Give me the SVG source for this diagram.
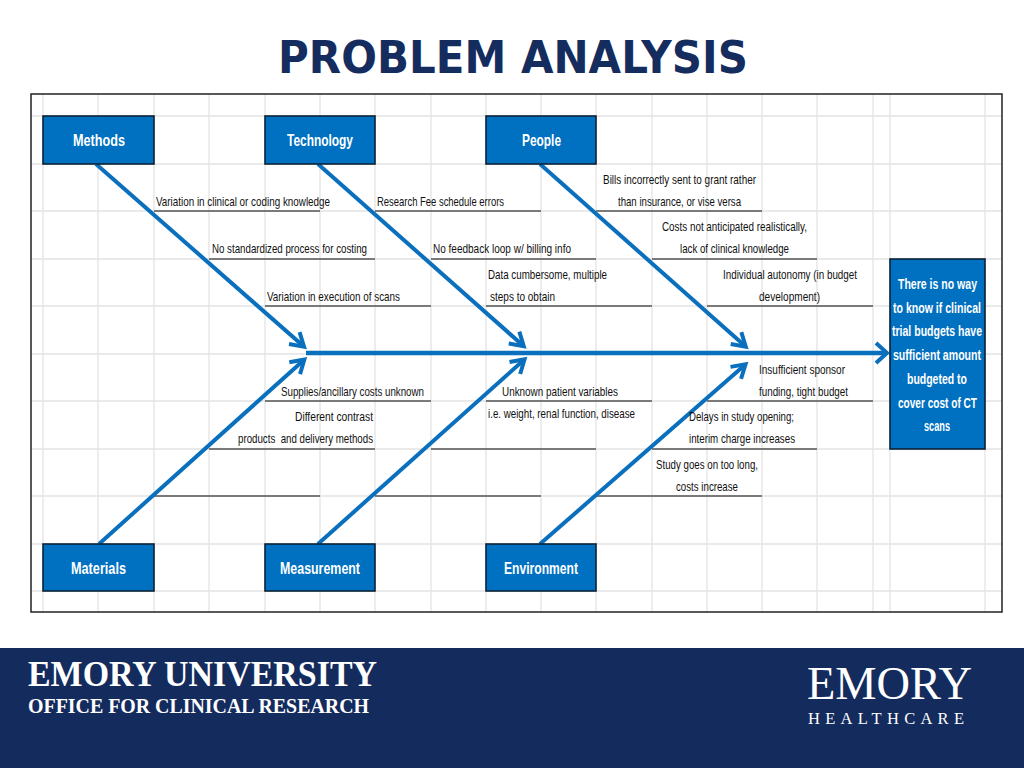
<svg xmlns="http://www.w3.org/2000/svg" width="1024" height="768" viewBox="0 0 1024 768">
<style>
.g{stroke:#e4e4e4;stroke-width:1.3;fill:none}
.u{stroke:#0a0a0a;stroke-width:1.2;fill:none}
.a{stroke:#0a70bd;stroke-width:4;fill:none;stroke-linecap:butt}
.m{stroke:#0a70bd;stroke-width:4.6;fill:none}
.n{fill:#0070c0;stroke:#0b2238;stroke-width:1.6}
text{font-family:"Liberation Sans","Noto Sans",sans-serif}
.l{font-size:13px;fill:#111}
.h{font-size:17px;font-weight:bold;fill:#fff}
.r{font-size:15.5px;font-weight:bold;fill:#fff}
.f{font-family:"Liberation Serif",serif;fill:#fff}
</style>
<defs>
<marker id="ah" viewBox="0 0 28 24" refX="19" refY="12" markerWidth="28" markerHeight="24" markerUnits="userSpaceOnUse" orient="auto"><path d="M7 4 L20 12 L7 20" fill="none" stroke="#0a70bd" stroke-width="4"/></marker>
<marker id="ahm" viewBox="0 0 28 24" refX="19" refY="12" markerWidth="28" markerHeight="24" markerUnits="userSpaceOnUse" orient="auto"><path d="M9 2 L20 12 L9 22" fill="none" stroke="#0a70bd" stroke-width="4"/></marker>
</defs>
<rect width="1024" height="768" fill="#fff"/>
<text id="title" x="278" y="73" font-size="45" font-weight="bold" fill="#152c5e" style="font-family:'DejaVu Sans',sans-serif" textLength="470" lengthAdjust="spacingAndGlyphs">PROBLEM ANALYSIS</text>
<g id="grid">
<path class="g" d="M43 94V612M98 94V612M154 94V612M209 94V612M265 94V612M320 94V612M375 94V612M431 94V612M486 94V612M541 94V612M596 94V612M652 94V612M707 94V612M762 94V612M817 94V612M873 94V612M890 94V612M985 94V612"/>
<path class="g" d="M31 116H1002M31 164H1002M31 211H1002M31 259H1002M31 306H1002M31 354H1002M31 401H1002M31 449H1002M31 496H1002M31 544H1002M31 591H1002"/>
<rect x="31" y="94" width="971" height="518" fill="none" stroke="#222" stroke-width="1.5"/>
</g>
<g id="ribs">
<path class="u" d="M154 211H320M375 211H541M596 211H762M209 259H375M431 259H596M652 259H817M265 306H431M486 306H652M707 306H873M265 401H431M486 401H652M707 401H873M209 449H375M431 449H596M652 449H817M154 496H320M375 496H541M596 496H762"/>
</g>
<g id="connectors">
<line class="a" x1="96" y1="164" x2="303.3" y2="346" marker-end="url(#ah)"/>
<line class="a" x1="318" y1="164" x2="523" y2="345.5" marker-end="url(#ah)"/>
<line class="a" x1="540" y1="164" x2="745" y2="346" marker-end="url(#ah)"/>
<line class="a" x1="99" y1="544" x2="303.6" y2="360.2" marker-end="url(#ah)"/>
<line class="a" x1="318" y1="544" x2="523.8" y2="360" marker-end="url(#ah)"/>
<line class="a" x1="540" y1="544" x2="744.8" y2="365" marker-end="url(#ah)"/>
<line class="m" x1="306" y1="353" x2="886" y2="353" marker-end="url(#ahm)"/>
</g>
<g id="labels">
<text class="l" x="156" y="206" textLength="174" lengthAdjust="spacingAndGlyphs">Variation in clinical or coding knowledge</text>
<text class="l" x="377" y="206" textLength="127" lengthAdjust="spacingAndGlyphs">Research Fee schedule errors</text>
<text class="l" x="603" y="184" textLength="153" lengthAdjust="spacingAndGlyphs">Bills incorrectly sent to grant rather</text>
<text class="l" x="618" y="206" textLength="123" lengthAdjust="spacingAndGlyphs">than insurance, or vise versa</text>
<text class="l" x="662" y="231" textLength="145" lengthAdjust="spacingAndGlyphs">Costs not anticipated realistically,</text>
<text class="l" x="680" y="253" textLength="109" lengthAdjust="spacingAndGlyphs">lack of clinical knowledge</text>
<text class="l" x="212" y="253" textLength="155" lengthAdjust="spacingAndGlyphs">No standardized process for costing</text>
<text class="l" x="433" y="253" textLength="138" lengthAdjust="spacingAndGlyphs">No feedback loop w/ billing info</text>
<text class="l" x="488" y="279" textLength="119" lengthAdjust="spacingAndGlyphs">Data cumbersome, multiple</text>
<text class="l" x="490" y="301" textLength="65" lengthAdjust="spacingAndGlyphs">steps to obtain</text>
<text class="l" x="723" y="279" textLength="134" lengthAdjust="spacingAndGlyphs">Individual autonomy (in budget</text>
<text class="l" x="759" y="301" textLength="61" lengthAdjust="spacingAndGlyphs">development)</text>
<text class="l" x="267" y="301" textLength="133" lengthAdjust="spacingAndGlyphs">Variation in execution of scans</text>
<text class="l" x="759" y="374" textLength="86" lengthAdjust="spacingAndGlyphs">Insufficient sponsor</text>
<text class="l" x="759" y="396" textLength="89" lengthAdjust="spacingAndGlyphs">funding, tight budget</text>
<text class="l" x="281" y="396" textLength="143" lengthAdjust="spacingAndGlyphs">Supplies/ancillary costs unknown</text>
<text class="l" x="502" y="396" textLength="116" lengthAdjust="spacingAndGlyphs">Unknown patient variables</text>
<text class="l" x="488" y="418" textLength="147" lengthAdjust="spacingAndGlyphs">i.e. weight, renal function, disease</text>
<text class="l" x="295" y="421" textLength="78" lengthAdjust="spacingAndGlyphs">Different contrast</text>
<text class="l" x="238" y="443" textLength="135" lengthAdjust="spacingAndGlyphs" xml:space="preserve">products  and delivery methods</text>
<text class="l" x="689" y="421" textLength="105" lengthAdjust="spacingAndGlyphs">Delays in study opening;</text>
<text class="l" x="689" y="443" textLength="106" lengthAdjust="spacingAndGlyphs">interim charge increases</text>
<text class="l" x="656" y="469" textLength="102" lengthAdjust="spacingAndGlyphs">Study goes on too long,</text>
<text class="l" x="676" y="491" textLength="62" lengthAdjust="spacingAndGlyphs">costs increase</text>
</g>
<g id="methods"><rect class="n" x="43" y="116" width="111" height="48"/><text class="h" x="73" y="146" textLength="52" lengthAdjust="spacingAndGlyphs">Methods</text></g>
<g id="technology"><rect class="n" x="265" y="116" width="110" height="48"/><text class="h" x="287" y="146" textLength="66" lengthAdjust="spacingAndGlyphs">Technology</text></g>
<g id="people"><rect class="n" x="486" y="116" width="110" height="48"/><text class="h" x="522" y="146" textLength="39" lengthAdjust="spacingAndGlyphs">People</text></g>
<g id="materials"><rect class="n" x="43" y="544" width="111" height="47"/><text class="h" x="71" y="574" textLength="55" lengthAdjust="spacingAndGlyphs">Materials</text></g>
<g id="measurement"><rect class="n" x="265" y="544" width="110" height="47"/><text class="h" x="280" y="574" textLength="80" lengthAdjust="spacingAndGlyphs">Measurement</text></g>
<g id="environment"><rect class="n" x="486" y="544" width="110" height="47"/><text class="h" x="504" y="574" textLength="74" lengthAdjust="spacingAndGlyphs">Environment</text></g>
<g id="effect"><rect class="n" x="890" y="259" width="95" height="190"/>
<text class="r" x="898" y="289" textLength="79" lengthAdjust="spacingAndGlyphs">There is no way</text>
<text class="r" x="893" y="313" textLength="88" lengthAdjust="spacingAndGlyphs">to know if clinical</text>
<text class="r" x="892" y="336" textLength="90" lengthAdjust="spacingAndGlyphs">trial budgets have</text>
<text class="r" x="893" y="360" textLength="88" lengthAdjust="spacingAndGlyphs">sufficient amount</text>
<text class="r" x="907" y="384" textLength="60" lengthAdjust="spacingAndGlyphs">budgeted to</text>
<text class="r" x="898" y="408" textLength="79" lengthAdjust="spacingAndGlyphs">cover cost of CT</text>
<text class="r" x="924" y="431" textLength="26" lengthAdjust="spacingAndGlyphs">scans</text>
</g>
<g id="footer">
<rect x="0" y="648" width="1024" height="120" fill="#142b5e"/>
<text class="f" x="28" y="686" font-size="36" font-weight="bold" textLength="349" lengthAdjust="spacingAndGlyphs">EMORY UNIVERSITY</text>
<text class="f" x="28" y="713" font-size="20" font-weight="bold" textLength="341" lengthAdjust="spacingAndGlyphs">OFFICE FOR CLINICAL RESEARCH</text>
<text class="f" x="807" y="699" font-size="47" textLength="165" lengthAdjust="spacingAndGlyphs">EMORY</text>
<text class="f" x="808" y="724" font-size="16.5" textLength="156" lengthAdjust="spacing">HEALTHCARE</text>
</g>
</svg>
